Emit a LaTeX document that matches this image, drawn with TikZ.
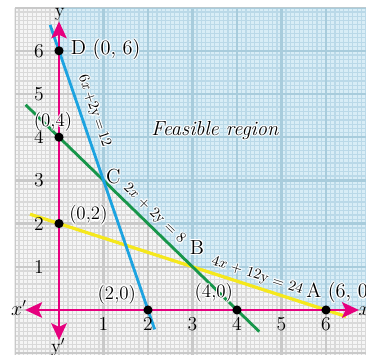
\documentclass[tikz,border=0pt]{standalone}
\usetikzlibrary{arrows.meta}
\usepackage{contour}
\contourlength{0.8pt}
\contournumber{10}
\definecolor{axisc}{HTML}{E6007E}
\definecolor{lblue}{HTML}{1CA3E0}
\definecolor{lgreen}{HTML}{17964A}
\definecolor{lyellow}{HTML}{F5E81C}
\definecolor{paper}{HTML}{F5F5F5}
\definecolor{minorg}{HTML}{D9D9D9}
\definecolor{majorg}{HTML}{C9C9C9}
\definecolor{feas}{HTML}{D8EDF6}
\definecolor{minorb}{HTML}{BAD9E8}
\definecolor{majorb}{HTML}{A8CCDC}
\newcommand{\halo}[1]{\contour{white}{#1}}
\tikzset{
  dot/.style={circle,fill=black,inner sep=0pt,minimum size=6.5pt},
  axisline/.style={axisc,line width=2pt,{Stealth[length=12pt,width=11pt,inset=2.5pt]}-{Stealth[length=12pt,width=11pt,inset=2.5pt]}},
  cline/.style={line width=2pt},
  tick/.style={font=\fontsize{14}{16}\selectfont,inner sep=0pt},
  ptlabel/.style={font=\fontsize{13.5}{16}\selectfont,inner sep=0pt},
  biglabel/.style={font=\fontsize{14.5}{16}\selectfont,inner sep=0pt},
  eqlabel/.style={font=\fontsize{10.5}{12}\selectfont,inner sep=0pt},
}
\begin{document}
\begin{tikzpicture}[x=1.1125cm,y=1.08cm]
\useasboundingbox (-1.326,-1.019) rectangle (6.899,7.176);
\clip (-1.326,-1.019) rectangle (6.899,7.176);
% graph paper
\begin{scope}
\clip (-1,-1.2) rectangle (7,7);
\fill[paper] (-1,-1.2) rectangle (7,7);
\draw[minorg,line width=0.9pt] (-1,-1.2) grid[step=0.1] (7,7);
\draw[majorg,line width=1.8pt] (-1,-1.2) grid[step=1] (7,7);
\clip (0,7) -- (0,6) -- (1,3) -- (3,1) -- (6,0) -- (7,0) -- (7,7) -- cycle;
\fill[feas] (-1,-1.2) rectangle (7,7);
\draw[minorb,line width=0.9pt] (-1,-1.2) grid[step=0.1] (7,7);
\draw[majorb,line width=1.8pt] (-1,-1.2) grid[step=1] (7,7);
\end{scope}
% constraint lines
\coordinate (b1) at (-0.2,6.6);
\coordinate (b2) at (2.15,-0.45);
\coordinate (g1) at (-0.75,4.75);
\coordinate (g2) at (4.5,-0.5);
\coordinate (y1) at (-0.65,2.217);
\coordinate (y2) at (6.45,-0.15);
\draw[cline,lyellow,line width=2.3pt] (y1) -- (y2);
\draw[cline,lgreen] (g1) -- (g2);
\draw[cline,lblue] (b1) -- (b2);
% axes
\coordinate (xl) at (-0.76,0);
\coordinate (xr) at (6.74,0);
\coordinate (yt) at (0,6.68);
\coordinate (yb) at (0,-0.7);
\draw[axisline] (xl) -- (xr);
\draw[axisline] (yb) -- (yt);
\node[ptlabel] (xlab) at (6.86,-0.02) {$x$};
\node[ptlabel] (xplab) at (-0.9,0.05) {$x'$};
\node[ptlabel] (ylab) at (0.02,6.84) {y};
\node[ptlabel] (yplab) at (-0.02,-0.87) {y$'$};
% ticks
\foreach \i in {1,...,6} {
  \node[tick] (tx\i) at (\i,-0.33) {\i};
  \node[tick] (ty\i) at (-0.45,\i) {\i};
}
% points
\node[dot] (D) at (0,6) {};
\node[dot] (P04) at (0,4) {};
\node[dot] (P02) at (0,2) {};
\node[dot] (P20) at (2,0) {};
\node[dot] (P40) at (4,0) {};
\node[dot] (A) at (6,0) {};
\node[biglabel,anchor=west] (Dlab) at (0.26,6.02) {\halo{D (0, 6)}};
\node[ptlabel] (l04) at (-0.135,4.35) {\halo{(0,4)}};
\node[ptlabel] (l02) at (0.66,2.18) {\halo{(0,2)}};
\node[ptlabel] (l20) at (1.30,0.35) {\halo{(2,0)}};
\node[ptlabel] (l40) at (3.48,0.38) {\halo{(4,0)}};
\node[biglabel,anchor=west] (Alab) at (5.55,0.39) {\halo{A (6, 0)}};
\node[biglabel] (Clab) at (1.22,3.07) {\halo{C}};
\node[biglabel] (Blab) at (3.1,1.44) {\halo{B}};
\node[biglabel,font=\fontsize{14.5}{16}\selectfont\itshape] (feas) at (3.5,4.14) {\halo{Feasible region}};
% equation labels
\node[eqlabel,rotate=-71] (e1) at (0.78,4.6) {\halo{6\textit{x}\,+2y\,=\,12}};
\node[eqlabel,rotate=-44.2] (e2) at (2.13,2.22) {\halo{2\textit{x} + 2y = 8}};
\node[eqlabel,rotate=-17.9] (e3) at (4.45,0.78) {\halo{4\textit{x} + 12y = 24}};
\end{tikzpicture}
\end{document}
